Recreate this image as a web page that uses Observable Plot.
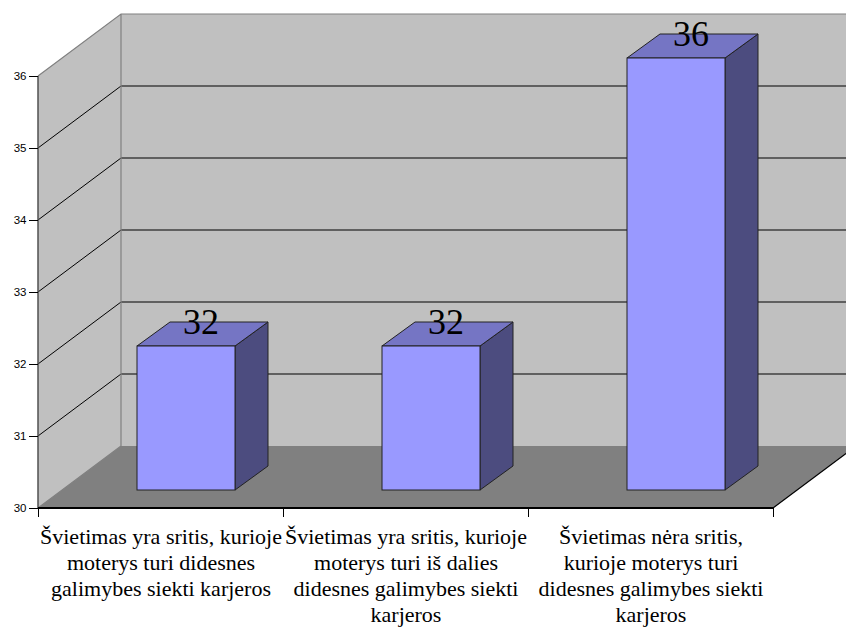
<!DOCTYPE html>
<html>
<head>
<meta charset="utf-8">
<script src="https://cdn.jsdelivr.net/npm/d3@7"></script>
<script src="https://cdn.jsdelivr.net/npm/@observablehq/plot@0.6"></script>
<style>
  html, body { margin: 0; padding: 0; background: #ffffff; }
  #chart svg { display: block; }
</style>
</head>
<body>
<div id="chart"></div>
<script>
// Survey answers: is education a field where women have better career chances?
const categories = [
  "Švietimas yra sritis, kurioje\nmoterys turi didesnes\ngalimybes siekti karjeros",
  "Švietimas yra sritis, kurioje\nmoterys turi iš dalies\ndidesnes galimybes siekti\nkarjeros",
  "Švietimas nėra sritis,\nkurioje moterys turi\ndidesnes galimybes siekti\nkarjeros"
];
const values = [32, 32, 36];
const yTicks = [30, 31, 32, 33, 34, 35, 36];

const rows = categories.map((c, i) => ({category: c, index: i, value: values[i]}));

const yMin = 30, yMax = 36;
// Oblique projection of the chart depth (pixels)
const DEPTH_X = 83, DEPTH_Y = -62;
// Bars sit part way into the depth, with their own thickness
const BAR_DX = 25.5, BAR_DY = -18;
const BAR_DEPTH_X = 33, BAR_DEPTH_Y = -24;
const BAR_HALF = 0.2;

const SERIF = "Liberation Serif";
const SANS = "Liberation Sans";

// Walls, floor and gridlines of the 3-D box
function box(index, scales) {
  const x = scales.x, y = scales.y;
  const x0 = x(0), x1 = x(categories.length);
  const yb = y(yMin), yt = y(yMax);
  const g = d3.create("svg:g");
  const poly = (pts) => "M" + pts.map(p => p.join(",")).join("L") + "Z";
  // back wall
  g.append("path")
    .attr("d", poly([[x0 + DEPTH_X, yb + DEPTH_Y], [x0 + DEPTH_X, yt + DEPTH_Y], [x1 + DEPTH_X, yt + DEPTH_Y], [x1 + DEPTH_X, yb + DEPTH_Y]]))
    .attr("fill", "#c0c0c0");
  // side wall
  g.append("path")
    .attr("d", poly([[x0, yb], [x0, yt], [x0 + DEPTH_X, yt + DEPTH_Y], [x0 + DEPTH_X, yb + DEPTH_Y]]))
    .attr("fill", "#c0c0c0");
  // floor
  g.append("path")
    .attr("d", poly([[x0, yb], [x1, yb], [x1 + DEPTH_X, yb + DEPTH_Y], [x0 + DEPTH_X, yb + DEPTH_Y]]))
    .attr("fill", "#808080");
  // gridlines
  for (const t of yTicks) {
    if (t === yMin || t === yMax) continue;
    const yy = y(t);
    g.append("path")
      .attr("d", `M${x0},${yy}L${x0 + DEPTH_X},${yy + DEPTH_Y}L${x1 + DEPTH_X},${yy + DEPTH_Y}`)
      .attr("fill", "none").attr("stroke", "#000").attr("stroke-width", 1);
  }
  // wall edges
  g.append("path")
    .attr("d", `M${x0},${yt}L${x0 + DEPTH_X},${yt + DEPTH_Y}L${x1 + DEPTH_X},${yt + DEPTH_Y}M${x0 + DEPTH_X},${yt + DEPTH_Y}L${x0 + DEPTH_X},${yb + DEPTH_Y}M${x0},${yb}L${x0 + DEPTH_X},${yb + DEPTH_Y}`)
    .attr("fill", "none").attr("stroke", "#808080").attr("stroke-width", 1.2);
  // floor right edge
  g.append("path")
    .attr("d", `M${x1},${yb}L${x1 + DEPTH_X},${yb + DEPTH_Y}`)
    .attr("fill", "none").attr("stroke", "#000").attr("stroke-width", 1.2);
  // value axis line
  g.append("path")
    .attr("d", `M${x0},${yt}V${yb}`)
    .attr("fill", "none").attr("stroke", "#505050").attr("stroke-width", 1.5);
  // category axis line
  g.append("path")
    .attr("d", `M${x0},${yb}H${x1}`)
    .attr("fill", "none").attr("stroke", "#000").attr("stroke-width", 2);
  return g.node();
}

// Top and side faces of each bar
function barFaces(index, scales) {
  const x = scales.x, y = scales.y;
  const g = d3.create("svg:g").attr("stroke", "#222").attr("stroke-width", 1).attr("stroke-linejoin", "round");
  for (const r of rows) {
    const xl = x(r.index + 0.5 - BAR_HALF) + BAR_DX;
    const xr = x(r.index + 0.5 + BAR_HALF) + BAR_DX;
    const ytop = y(r.value) + BAR_DY;
    const ybot = y(yMin) + BAR_DY;
    g.append("path")
      .attr("d", `M${xr},${ytop}L${xr + BAR_DEPTH_X},${ytop + BAR_DEPTH_Y}L${xr + BAR_DEPTH_X},${ybot + BAR_DEPTH_Y}L${xr},${ybot}Z`)
      .attr("fill", "#4c4c7f");
    g.append("path")
      .attr("d", `M${xl},${ytop}L${xl + BAR_DEPTH_X},${ytop + BAR_DEPTH_Y}L${xr + BAR_DEPTH_X},${ytop + BAR_DEPTH_Y}L${xr},${ytop}Z`)
      .attr("fill", "#7575c4");
  }
  return g.node();
}

const chart = Plot.plot({
  width: 846,
  height: 635,
  marginLeft: 38,
  marginRight: 73,
  marginTop: 76,
  marginBottom: 127,
  style: {background: "#ffffff", color: "#000"},
  x: {type: "linear", domain: [0, categories.length], axis: null},
  y: {type: "linear", domain: [yMin, yMax], axis: null},
  marks: [
    box,
    barFaces,
    Plot.rect(rows, {
      x1: d => d.index + 0.5 - BAR_HALF,
      x2: d => d.index + 0.5 + BAR_HALF,
      y1: () => yMin,
      y2: d => d.value,
      dx: BAR_DX,
      dy: BAR_DY,
      fill: "#9999ff",
      stroke: "#222",
      strokeWidth: 1
    }),
    Plot.axisY({ticks: yTicks, tickSize: 9, tickPadding: 3, fontSize: 11.5, fontFamily: SANS, tickFormat: d => String(d), label: null}),
    Plot.axisX({ticks: d3.range(categories.length + 1), tickSize: 9, tickFormat: () => "", label: null}),
    Plot.text(rows, {
      x: d => d.index + 0.5,
      y: () => yMin,
      text: d => d.category,
      lineAnchor: "top",
      lineHeight: 1.17,
      dy: 17.7,
      fontSize: 22,
      fontFamily: SERIF,
      fill: "#000"
    }),
    Plot.text(rows, {
      x: d => d.index + 0.5,
      y: d => d.value,
      text: d => String(d.value),
      lineAnchor: "bottom",
      dx: 40,
      dy: -31,
      fontSize: 36,
      fontFamily: SERIF,
      fill: "#000"
    })
  ]
});

document.getElementById("chart").appendChild(chart);
</script>
</body>
</html>
